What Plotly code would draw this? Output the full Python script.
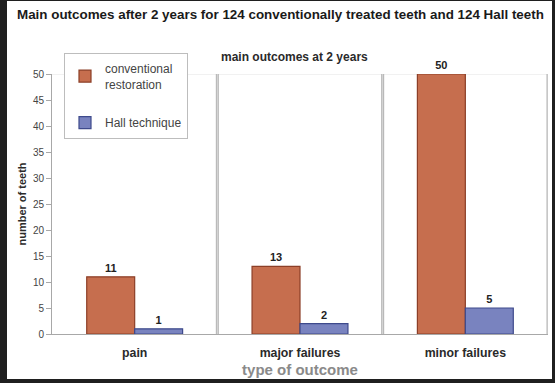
import plotly.graph_objects as go

# Outcome counts after two years
categories = ["pain", "major failures", "minor failures"]
conventional = [11, 13, 50]
hall = [1, 2, 5]
series_names = ["conventional<br>restoration", "Hall technique"]

W, H = 555, 383
ML, MR, MT, MB = 52, 7, 74, 49
FONT = "Liberation Sans, Arial, sans-serif"

fig = go.Figure()
fig.add_trace(go.Bar(
    x=categories, y=conventional, name=series_names[0],
    marker=dict(color="#C66E4E", line=dict(color="#8C3F27", width=1.2)),
    text=conventional, texttemplate="<b>%{text}</b>",
    textposition="outside", cliponaxis=False,
    textfont=dict(family=FONT, size=11, color="#222"),
    legendgroup="a",
))
fig.add_trace(go.Bar(
    x=categories, y=hall, name=series_names[1],
    marker=dict(color="#7983BF", line=dict(color="#3E4A8C", width=1.2)),
    text=hall, texttemplate="<b>%{text}</b>",
    textposition="outside", cliponaxis=False,
    textfont=dict(family=FONT, size=11, color="#222"),
    legendgroup="b",
))

pw = W - ML - MR
ph = H - MT - MB

def px_x(p):
    return (p - ML) / pw

def px_y(p):
    return (H - MB - p) / ph

shapes = [
    # white card inside the dark frame
    dict(type="rect", xref="paper", yref="paper", layer="below",
         x0=px_x(7), x1=px_x(552), y0=px_y(379), y1=px_y(1),
         fillcolor="white", line=dict(width=0)),
    # faint back-wall top edge
    dict(type="line", xref="paper", yref="y", x0=0, x1=1, y0=50, y1=50,
         line=dict(color="#E4E4E4", width=1), layer="below"),
]
# category walls between groups and at the right end
for i in range(len(categories)):
    xb = i + 0.5
    shapes.append(dict(type="line", xref="x", yref="y", x0=xb, x1=xb, y0=0, y1=50,
                       line=dict(color="#B4B4B4", width=3), layer="below"))
    shapes.append(dict(type="line", xref="x", yref="y", x0=xb, x1=xb, y0=0, y1=50,
                       line=dict(color="#DADADA", width=1), layer="below"))

fig.update_layout(
    width=W, height=H,
    margin=dict(l=ML, r=MR, t=MT, b=MB),
    paper_bgcolor="#1F1F1F",
    plot_bgcolor="rgba(0,0,0,0)",
    font=dict(family=FONT, color="#333"),
    barmode="group", bargap=0.42, bargroupgap=0,
    showlegend=True,
    legend=dict(
        x=px_x(64), y=px_y(53), xanchor="left", yanchor="top",
        bgcolor="white", bordercolor="#BDBDBD", borderwidth=1,
        font=dict(family=FONT, size=12, color="#444"),
        traceorder="grouped", tracegroupgap=20,
        itemwidth=30,
    ),
    shapes=shapes,
    annotations=[
        dict(text="<b>Main outcomes after 2 years for 124 conventionally treated teeth and 124 Hall teeth</b>",
             xref="paper", yref="paper", x=px_x(280), y=px_y(15),
             showarrow=False, xanchor="center", yanchor="middle",
             font=dict(family=FONT, size=13.4, color="#1A1A1A")),
        dict(text="<b>main outcomes at 2 years</b>",
             xref="paper", yref="paper", x=px_x(294), y=px_y(57),
             showarrow=False, xanchor="center", yanchor="middle",
             font=dict(family=FONT, size=12, color="#2A2A2A")),
    ],
    xaxis=dict(
        range=[-0.5, 2.5],
        showline=True, linecolor="#A8A8A8", linewidth=1,
        ticks="outside", ticklen=7, tickcolor="rgba(0,0,0,0)",
        tickfont=dict(family=FONT, size=12.3, color="#2A2A2A"),
        tickprefix="<b>", ticksuffix="</b>",
        title=dict(text="<b>type of outcome</b>", standoff=5,
                   font=dict(family=FONT, size=15, color="#8A8A8A")),
        showgrid=False,
    ),
    yaxis=dict(
        range=[0, 50], dtick=5,
        showline=True, linecolor="#A8A8A8", linewidth=1,
        ticks="outside", ticklen=5, tickcolor="#A8A8A8",
        tickfont=dict(family=FONT, size=10, color="#444"),
        title=dict(text="<b>number of teeth</b>", standoff=4,
                   font=dict(family=FONT, size=11, color="#2A2A2A")),
        showgrid=False, zeroline=False,
    ),
)

fig.write_html("out.html")
